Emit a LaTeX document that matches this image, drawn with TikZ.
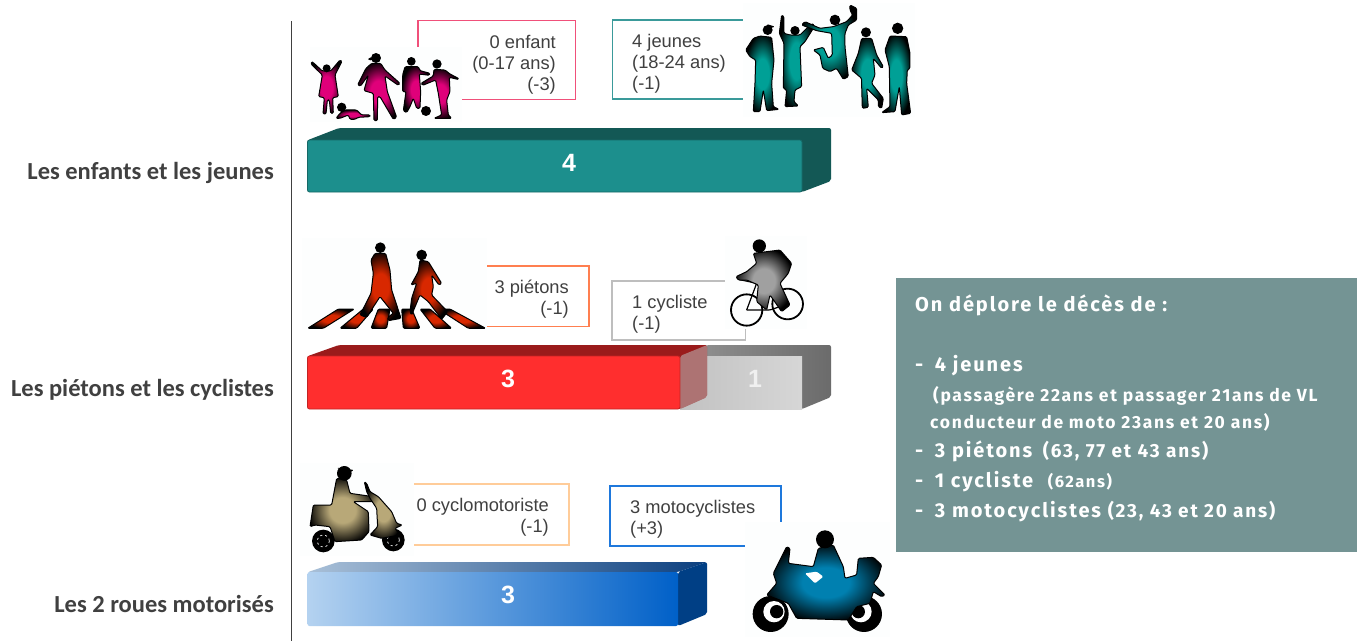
\documentclass[tikz,border=0pt]{standalone}
\usepackage{fontspec}
\setmainfont{Liberation Sans}
\newfontfamily\leftfont{Carlito}
\newfontfamily\panelfont[LetterSpace=9.5]{Fira Sans}
\definecolor{tealfront}{HTML}{1C8F8D}
\definecolor{tealdark}{HTML}{135855}
\definecolor{redfront}{HTML}{FF2E2E}
\definecolor{reddark}{HTML}{9A1B1B}
\definecolor{panelbg}{HTML}{749494}
\definecolor{imgbg}{HTML}{FDFEFE}
\definecolor{labelgrey}{HTML}{404040}
\definecolor{cpink}{HTML}{F0507A}
\definecolor{cteal}{HTML}{3A9A9A}
\definecolor{corange}{HTML}{FF7F50}
\definecolor{cgrey}{HTML}{BEBEBE}
\definecolor{cpeach}{HTML}{FFCC99}
\definecolor{cblue}{HTML}{1E78DC}
\definecolor{kidc}{HTML}{E0007A}
\definecolor{teenc}{HTML}{00A096}
\definecolor{pedc}{HTML}{D82800}
\definecolor{cycc}{HTML}{A0A0A0}
\definecolor{scoc}{HTML}{B8A878}
\definecolor{motoc}{HTML}{0080B0}
\definecolor{bluefl}{HTML}{B4D2F0}
\definecolor{bluefr}{HTML}{0060C8}
\definecolor{bluetl}{HTML}{A9C0D8}
\definecolor{bluetr}{HTML}{0B3F7F}
\definecolor{blueside}{HTML}{003F85}
\newcommand\silshade[2]{\pgfdeclareradialshading{#1}{\pgfpoint{0bp}{0bp}}{color(0bp)=(#2);color(10bp)=(#2);color(27bp)=(black);color(50bp)=(black)}}
\silshade{kidsh}{kidc}
\silshade{teensh}{teenc}
\silshade{pedsh}{pedc}
\silshade{cycsh}{cycc}
\silshade{scosh}{scoc}
\silshade{motosh}{motoc}
\tikzset{
  callout/.style={line width=1.2pt},
  imgback/.style={fill=imgbg,draw=none},
  lab/.style={font=\fontsize{18.3}{21}\selectfont,text=labelgrey,inner sep=0pt},
  catlab/.style={font=\leftfont\bfseries\fontsize{24.5}{27}\selectfont,text=labelgrey,inner sep=0pt,anchor=base east},
  num/.style={font=\bfseries\fontsize{25}{28}\selectfont,text=white,inner sep=0pt,anchor=base},
  big/.style={font=\panelfont\bfseries\fontsize{20}{23}\selectfont,text=white,inner sep=0pt,anchor=base west},
  small/.style={font=\panelfont\bfseries\fontsize{17.5}{20}\selectfont,text=white,inner sep=0pt,anchor=base west},
  barface/.style={rounded corners=2pt},
  sil/.style={line join=round,rounded corners=1.2pt,line width=1pt},
}
\begin{document}
\begin{tikzpicture}[x=1pt,y=-1pt]
\useasboundingbox (0,0) rectangle (1362,641);
\fill[white] (0,0) rectangle (1362,641);
% axis
\draw[line width=1.2pt,color=labelgrey] (291.5,21) -- (291.5,641);
% category labels
\node[catlab] (catA) at (274,179) {Les enfants et les jeunes};
\node[catlab] (catB) at (274,396) {Les piétons et les cyclistes};
\node[catlab] (catC) at (274,612) {Les 2 roues motorisés};
% callouts
\draw[callout,cpink] (418,20.5) rectangle (575.5,99.5);
\draw[callout,cteal] (612.5,20) rectangle (760,99);
\draw[callout,corange] (470,266) rectangle (589,326.5);
\draw[callout,cgrey] (612,281) rectangle (745.5,340);
\draw[callout,cpeach] (400,484) rectangle (569,545);
\draw[callout,cblue] (610,486) rectangle (781,546);
% image backgrounds
\fill[imgback] (310,47) rectangle (462,122);
\fill[imgback] (743,3) rectangle (915,117);
\fill[imgback] (302,238) rectangle (487,330);
\fill[imgback] (725,236) rectangle (807,329);
\fill[imgback] (300,463) rectangle (414,556);
\fill[imgback] (745,522) rectangle (890,637);
% callout texts
\node[lab,anchor=base east] (t1a) at (556,48) {0 enfant};
\node[lab,anchor=base east] (t1b) at (556,69) {(0-17 ans)};
\node[lab,anchor=base east] (t1c) at (556,90) {(-3)};
\node[lab,anchor=base west] (t2a) at (632,47) {4 jeunes};
\node[lab,anchor=base west] (t2b) at (632,68) {(18-24 ans)};
\node[lab,anchor=base west] (t2c) at (632,89) {(-1)};
\node[lab,anchor=base east] (t3a) at (569,293) {3 piétons};
\node[lab,anchor=base east] (t3b) at (569,314) {(-1)};
\node[lab,anchor=base west] (t4a) at (632,308) {1 cycliste};
\node[lab,anchor=base west] (t4b) at (632,329) {(-1)};
\node[lab,anchor=base east] (t5a) at (549,511) {0 cyclomotoriste};
\node[lab,anchor=base east] (t5b) at (549,532) {(-1)};
\node[lab,anchor=base west] (t6a) at (630,513) {3 motocyclistes};
\node[lab,anchor=base west] (t6b) at (630,534) {(+3)};
% bar 1
\fill[tealdark,barface] (308,140) -- (339,128) -- (831,128) -- (831,181) -- (802,192) -- cycle;
\fill[tealfront,barface] (307.5,140) rectangle (802,192);
\draw[color=tealdark!70!tealfront,line width=.8pt,rounded corners=2pt] (307.5,140) rectangle (802,192);
\node[num] (n1) at (569,171) {4};
% bar 2 grey
\shade[left color=black!42,right color=black!58,barface] (680,356) -- (707,345) -- (831,345) -- (831,397) -- (802,409) -- (680,409) -- cycle;
\shade[left color=black!24,right color=black!16] (680,356) rectangle (802,409);
% bar 2 red
\fill[reddark,barface] (308,356) -- (339,345) -- (707,345) -- (707,397) -- (680,409) -- cycle;
\fill[redfront,barface] (307.5,356) rectangle (680,409);
\fill[color=black!26!white,opacity=.55,barface] (680,356) -- (707,345) -- (707,397) -- (680,409) -- cycle;
\draw[color=reddark!60!redfront,line width=.8pt,rounded corners=2pt] (307.5,356) rectangle (680,409);
\node[num] (n2) at (508,387) {3};
\node[num,text=black!6] (n3) at (755,387) {1};
% bar 3
\shade[left color=bluetl,right color=bluetr,barface] (308,572) -- (338,562) -- (707,562) -- (678,572) -- cycle;
\fill[blueside,barface] (678,572) -- (707,562) -- (707,614) -- (678,626) -- cycle;
\shade[left color=bluefl,right color=bluefr,barface] (307.5,572) rectangle (678,626);
\node[num] (n4) at (508,603) {3};
% panel
\fill[panelbg] (896,278) rectangle (1357,552);
\node[big] (p1) at (915,311) {On déplore le décès de :};
\node[big] (p2) at (915,371) {-\hspace{5pt} 4 jeunes};
\node[small] (p3) at (933,401) {(passagère 22ans et passager 21ans de VL};
\node[small] (p4) at (930,428) {conducteur de moto 23ans et 20 ans)};
\node[big] (p5) at (915,457) {-\hspace{5pt} 3 piétons\hspace{4pt} {\fontsize{19}{22}\selectfont (63, 77 et 43 ans)}};
\node[big] (p6) at (915,487) {-\hspace{5pt} 1 cycliste\hspace{8pt} {\fontsize{16.5}{20}\selectfont (62ans)}};
\node[big] (p7) at (915,517) {-\hspace{5pt} 3 motocyclistes {\fontsize{19}{22}\selectfont (23, 43 et 20 ans)}};
% children
\begin{scope}[shift={(290,0)},x=.3333pt,y=-.3333pt,sil]
\shadedraw[shading=kidsh,draw=black] (65,185)--(70,188)--(97,213)--(122,213)--(150,180)--(156,184)--(135,225)--(145,290)--(128,293)--(130,340)--(122,340)--(118,300)--(112,300)--(108,342)--(99,342)--(103,293)--(86,290)--(97,225)--(63,192)--cycle;
\fill[black] (110,205) circle[radius=12];
\shadedraw[shading=kidsh,draw=black] (165,330)--(200,330)--(215,345)--(240,345)--(240,350)--(205,352)--(195,358)--(180,358)--(175,345)--(150,355)--(138,355)--(150,340)--cycle;
\fill[black] (155,322) circle[radius=14];
\shadedraw[shading=kidsh,draw=black] (245,190)--(272,190)--(285,210)--(330,250)--(325,256)--(285,228)--(292,275)--(320,352)--(310,358)--(270,290)--(263,290)--(262,362)--(252,362)--(250,280)--(222,272)--(235,225)--(212,258)--(203,255)--(228,205)--cycle;
\fill[black] (258,174) circle[radius=15] (232,178) -- (246,170) -- (246,182) -- cycle;
\shadedraw[shading=kidsh,draw=black] (345,200)--(385,200)--(390,212)--(420,220)--(418,226)--(388,222)--(392,275)--(390,325)--(380,325)--(370,295)--(360,320)--(350,338)--(340,332)--(348,275)--(338,275)--(338,225)--cycle;
\fill[black] (364,184) circle[radius=13];
\fill[black] (408,333) circle[radius=15];
\shadedraw[shading=kidsh,draw=black] (432,208)--(465,210)--(480,222)--(505,235)--(503,238)--(478,232)--(480,275)--(470,300)--(475,345)--(485,355)--(432,355)--(455,345)--(445,280)--(437,240)--(398,256)--(393,250)--(430,228)--cycle;
\fill[black] (441,192) circle[radius=14];
\end{scope}
% teens
\begin{scope}[shift={(600,0)},x=.3333pt,y=-.3333pt,sil]
\shadedraw[shading=teensh,draw=black] (480,108)--(515,112)--(522,180)--(515,250)--(520,320)--(537,328)--(500,332)--(490,270)--(480,335)--(460,335)--(465,250)--(467,180)--(450,170)--(437,150)--(460,115)--cycle;
\fill[black] (503,90) circle[radius=15] (500,72)--(525,80)--(510,85)--cycle;
\shadedraw[shading=teensh,draw=black] (545,45)--(552,50)--(552,100)--(570,105)--(600,105)--(625,80)--(640,70)--(640,85)--(615,125)--(600,140)--(605,260)--(585,270)--(582,305)--(595,318)--(555,320)--(560,270)--(550,265)--(552,130)--(538,100)--cycle;
\fill[black] (585,92) circle[radius=14];
\shadedraw[shading=teensh,draw=black] (750,15)--(770,25)--(770,60)--(745,75)--(735,100)--(735,140)--(745,230)--(730,238)--(710,205)--(690,215)--(668,205)--(660,165)--(640,150)--(670,142)--(685,175)--(697,165)--(695,100)--(650,92)--(605,75)--(615,65)--(660,85)--(700,80)--(740,65)--(758,45)--(750,30)--cycle;
\fill[black] (705,60) circle[radius=16];
\shadedraw[shading=teensh,draw=black] (785,115)--(815,115)--(830,165)--(850,200)--(845,205)--(820,175)--(825,225)--(815,250)--(850,295)--(845,325)--(835,320)--(835,300)--(800,265)--(805,322)--(787,325)--(785,255)--(785,235)--(755,210)--(775,160)--cycle;
\fill[black] (798,97) circle[radius=15];
\shadedraw[shading=teensh,draw=black] (870,108)--(920,110)--(930,160)--(930,205)--(922,210)--(920,250)--(932,340)--(905,345)--(898,260)--(885,335)--(845,338)--(870,320)--(868,200)--(855,150)--cycle;
\fill[black] (893,85) circle[radius=17];
\end{scope}
% pedestrians
\begin{scope}[shift={(295,230)},x=.3333pt,y=-.3333pt,sil]
\shadedraw[shading=pedsh,draw=black] (38,295)--(130,237)--(178,237)--(85,295)--cycle;
\shadedraw[shading=pedsh,draw=black] (135,295)--(205,237)--(235,237)--(185,295)--cycle;
\shadedraw[shading=pedsh,draw=black] (228,295)--(250,237)--(285,237)--(275,295)--cycle;
\shadedraw[shading=pedsh,draw=black] (325,295)--(320,237)--(350,237)--(375,295)--cycle;
\shadedraw[shading=pedsh,draw=black] (420,295)--(375,237)--(405,237)--(470,295)--cycle;
\shadedraw[shading=pedsh,draw=black] (520,295)--(430,237)--(465,237)--(572,295)--cycle;
\shadedraw[shading=pedsh,draw=black] (240,70)--(272,70)--(285,120)--(290,180)--(305,225)--(318,265)--(280,272)--(278,262)--(295,250)--(255,200)--(215,262)--(195,255)--(228,190)--(235,130)--(228,90)--cycle;
\fill[black] (256,53) circle[radius=16];
\shadedraw[shading=pedsh,draw=black] (375,90)--(400,95)--(440,160)--(432,165)--(410,135)--(415,170)--(410,195)--(458,245)--(440,268)--(400,215)--(375,195)--(350,255)--(345,245)--(350,205)--(365,160)--(348,165)--(370,125)--cycle;
\fill[black] (380,75) circle[radius=16];
\end{scope}
% cyclist
\begin{scope}[shift={(600,230)},x=.3333pt,y=-.3333pt,sil]
\draw[black,line width=1.8pt] (440,240) circle[radius=47];
\draw[black,line width=1.8pt] (563,222) circle[radius=46];
\draw[black,line width=1.2pt] (440,240) -- (470,160) -- (415,148);
\draw[black,line width=1.2pt] (440,240) -- (510,240) -- (563,222) -- (530,150);
\shadedraw[shading=cycsh,draw=black] (460,70)--(540,60)--(575,100)--(565,130)--(540,160)--(570,225)--(545,245)--(510,195)--(500,240)--(470,215)--(475,165)--(440,150)--(415,150)--(408,140)--(440,125)--(470,100)--cycle;
\fill[black] (478,48) circle[radius=20];
\end{scope}
% scooter
\begin{scope}[shift={(295,455)},x=.3333pt,y=-.3333pt,sil]
\fill[black] (85,258) circle[radius=34];
\fill[black] (295,255) circle[radius=34];
\draw[white,line width=.7pt,dash pattern=on 2pt off 3pt] (85,258) circle[radius=18];
\draw[white,line width=.7pt,dash pattern=on 2pt off 3pt] (295,255) circle[radius=18];
\shadedraw[shading=scosh,draw=black] (125,70)--(155,75)--(165,115)--(235,125)--(240,140)--(175,140)--(220,170)--(222,230)--(200,255)--(120,260)--(105,215)--(60,210)--(45,215)--(55,150)--(110,150)--cycle;
\shadedraw[shading=scosh,draw=black] (215,85)--(225,110)--(250,125)--(290,170)--(305,205)--(322,210)--(300,220)--(315,240)--(260,250)--(225,240)--(248,215)--(245,160)--(225,130)--(215,110)--(208,80)--cycle;
\fill[black] (148,55) circle[radius=22] (125,38)--(177,45)--(160,55)--cycle;
\end{scope}
% motorcycle
\begin{scope}[shift={(600,470)},x=.3333pt,y=-.3333pt,sil]
\fill[black] (512,432) circle[radius=54];
\fill[black] (792,432) circle[radius=54];
\fill[white] (522,425) circle[radius=32];
\fill[white] (783,425) circle[radius=32];
\fill[black] (530,425) circle[radius=20];
\fill[black] (775,425) circle[radius=20];
\shadedraw[shading=motosh,draw=black] (560,230)--(570,235)--(565,280)--(640,290)--(655,235)--(700,225)--(730,290)--(735,325)--(770,315)--(775,265)--(820,262)--(845,285)--(835,320)--(820,340)--(855,375)--(845,380)--(820,365)--(810,400)--(770,410)--(745,450)--(590,445)--(565,400)--(500,375)--(530,340)--(520,310)--cycle;
\fill[black] (675,208) circle[radius=27];
\fill[white] (615,310)--(650,305)--(670,320)--(645,340)--cycle;
\end{scope}
\end{tikzpicture}
\end{document}
